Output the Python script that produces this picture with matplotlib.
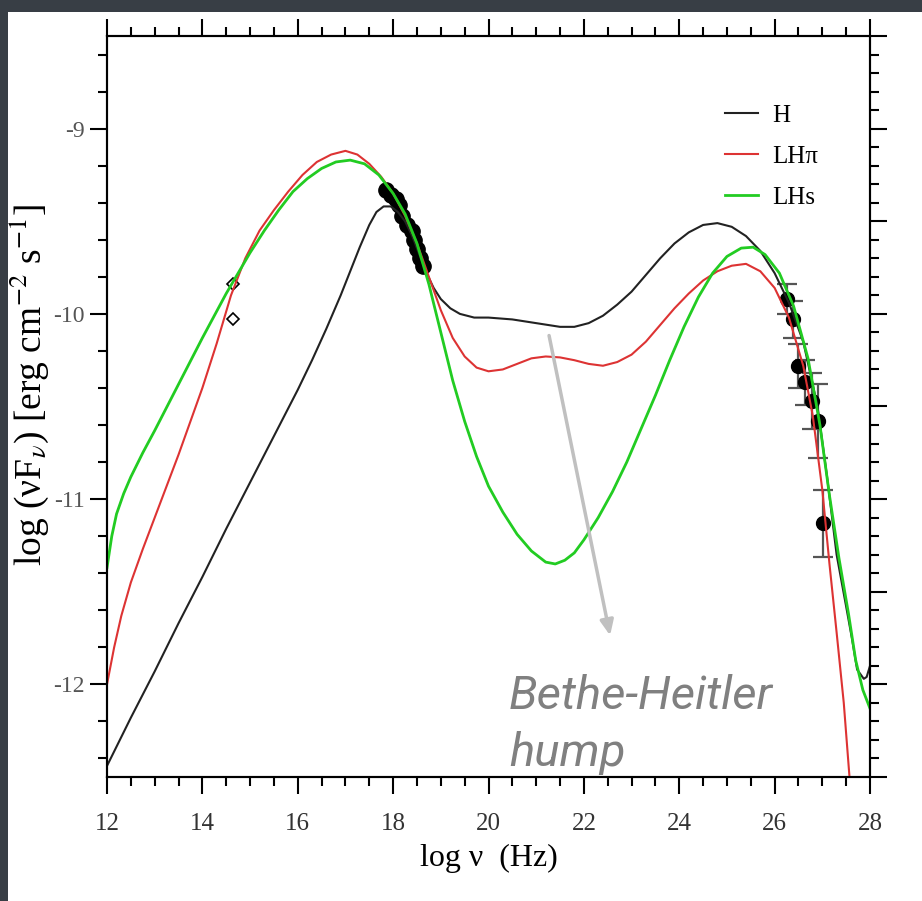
import matplotlib
matplotlib.use("Agg")
import matplotlib.pyplot as plt
from matplotlib.ticker import MultipleLocator
from matplotlib.patches import Rectangle

plt.rcParams['font.family'] = ['Liberation Serif', 'DejaVu Serif']
plt.rcParams['mathtext.fontset'] = 'stix'
plt.rcParams['axes.unicode_minus'] = False

# ---- model curves ----
x_h = [12.0, 12.5, 13.0, 13.5, 14.0, 14.5, 15.0, 15.5, 16.0, 16.3, 16.6, 16.9, 17.1, 17.3, 17.5,
       17.65, 17.8, 17.95, 18.1, 18.25, 18.4, 18.55, 18.7, 18.85, 19.0, 19.2, 19.4, 19.7, 20.0,
       20.5, 21.0, 21.5, 21.8, 22.1, 22.4, 22.7, 23.0, 23.3, 23.6, 23.9, 24.2, 24.5, 24.8, 25.1,
       25.4, 25.7, 26.0, 26.3, 26.6, 26.9, 27.1, 27.3, 27.5, 27.62, 27.73, 27.87, 27.93, 28.0]
y_h = [-12.44, -12.18, -11.93, -11.67, -11.42, -11.16, -10.91, -10.66, -10.41, -10.25, -10.08,
       -9.90, -9.77, -9.64, -9.52, -9.45, -9.42, -9.42, -9.45, -9.50, -9.58, -9.68, -9.78, -9.86,
       -9.92, -9.97, -10.00, -10.02, -10.02, -10.03, -10.05, -10.07, -10.07, -10.05, -10.01,
       -9.95, -9.88, -9.79, -9.70, -9.62, -9.56, -9.52, -9.51, -9.53, -9.58, -9.66, -9.78, -9.94,
       -10.15, -10.50, -10.88, -11.30, -11.58, -11.75, -11.92, -11.97, -11.96, -11.90]

x_lhpi = [12.0, 12.15, 12.3, 12.5, 12.75, 13.0, 13.5, 14.0, 14.3, 14.6, 14.9, 15.2, 15.5, 15.8,
          16.1, 16.4, 16.7, 17.0, 17.25, 17.5, 17.75, 18.0, 18.25, 18.5, 18.75, 19.0, 19.25, 19.5,
          19.75, 20.0, 20.3, 20.6, 20.9, 21.2, 21.5, 21.8, 22.1, 22.4, 22.7, 23.0, 23.3, 23.6,
          23.9, 24.2, 24.5, 24.8, 25.1, 25.4, 25.7, 26.0, 26.3, 26.6, 26.8, 27.0, 27.15, 27.3,
          27.45, 27.6]
y_lhpi = [-12.00, -11.80, -11.63, -11.45, -11.27, -11.10, -10.76, -10.40, -10.16, -9.90, -9.70,
          -9.55, -9.44, -9.34, -9.25, -9.18, -9.14, -9.12, -9.14, -9.19, -9.26, -9.35, -9.47,
          -9.62, -9.80, -9.98, -10.13, -10.23, -10.29, -10.31, -10.30, -10.27, -10.24, -10.23,
          -10.235, -10.25, -10.27, -10.28, -10.26, -10.22, -10.15, -10.06, -9.97, -9.89, -9.82,
          -9.77, -9.74, -9.73, -9.77, -9.86, -10.02, -10.28, -10.55, -10.95, -11.35, -11.72,
          -12.10, -12.60]

x_lhs = [12.0, 12.1, 12.2, 12.35, 12.5, 12.75, 13.0, 13.5, 14.0, 14.5, 15.0, 15.3, 15.6, 15.9,
         16.2, 16.5, 16.8, 17.1, 17.4, 17.7, 18.0, 18.25, 18.5, 18.75, 19.0, 19.25, 19.5, 19.75,
         20.0, 20.3, 20.6, 20.9, 21.2, 21.4, 21.6, 21.8, 22.0, 22.3, 22.6, 22.9, 23.2, 23.5, 23.8,
         24.1, 24.4, 24.7, 25.0, 25.3, 25.55, 25.8, 26.1, 26.4, 26.7, 26.95, 27.15, 27.35, 27.55,
         27.7, 27.85, 28.0]
y_lhs = [-11.37, -11.20, -11.08, -10.97, -10.88, -10.75, -10.63, -10.38, -10.13, -9.89, -9.67,
         -9.55, -9.44, -9.34, -9.27, -9.215, -9.18, -9.17, -9.19, -9.25, -9.35, -9.46, -9.62,
         -9.84, -10.10, -10.36, -10.58, -10.77, -10.93, -11.07, -11.19, -11.28, -11.34, -11.35,
         -11.33, -11.29, -11.22, -11.10, -10.96, -10.80, -10.62, -10.44, -10.25, -10.07, -9.91,
         -9.78, -9.69, -9.645, -9.64, -9.68, -9.78, -9.96, -10.24, -10.60, -10.98, -11.32,
         -11.62, -11.87, -12.03, -12.13]

# ---- observations ----
x_xray = [17.86, 17.95, 18.05, 18.12, 18.19, 18.30, 18.40, 18.44, 18.50, 18.56, 18.62]
y_xray = [-9.33, -9.36, -9.38, -9.41, -9.47, -9.52, -9.55, -9.60, -9.65, -9.70, -9.74]

x_opt = [14.64, 14.64]
y_opt = [-9.84, -10.03]

x_gam = [26.26, 26.38, 26.49, 26.64, 26.78, 26.91, 27.01]
y_gam = [-9.92, -10.03, -10.28, -10.37, -10.47, -10.58, -11.13]
e_gam = [0.08, 0.10, 0.12, 0.12, 0.15, 0.20, 0.18]

W, H = 922, 901
fig = plt.figure(figsize=(W / 100, H / 100), dpi=100)
fig.patch.set_facecolor('#383e45')
bg = Rectangle((8 / W, 0), 1 - 8 / W, 1 - 12 / H, transform=fig.transFigure,
               facecolor='white', edgecolor='none', zorder=-10)
fig.add_artist(bg)

L, R, T, B = 107, 870, 36, 777
ax = fig.add_axes([L / W, 1 - B / H, (R - L) / W, (B - T) / H])
ax.set_facecolor('white')
ax.set_xlim(12, 28)
ax.set_ylim(-12.5, -8.5)

ax.plot(x_xray, y_xray, 'o', color='black', ms=11, zorder=2)
ax.plot(x_opt, y_opt, 'D', mfc='white', mec='black', mew=1.2, ms=6, zorder=2)
ax.errorbar(x_gam, y_gam, yerr=e_gam, fmt='o', color='black', ms=10, ecolor='#555555',
            elinewidth=1.6, capsize=7, capthick=1.6, zorder=2)

ax.plot(x_h, y_h, color='#222222', lw=1.5, label='H', zorder=3)
ax.plot(x_lhpi, y_lhpi, color='#dd3333', lw=1.5, label='LHπ', zorder=3)
ax.plot(x_lhs, y_lhs, color='#22cc22', lw=2.0, label='LHs', zorder=3)

for s in ax.spines.values():
    s.set_linewidth(1.5)
ax.xaxis.set_major_locator(MultipleLocator(2))
ax.xaxis.set_minor_locator(MultipleLocator(0.5))
ax.yaxis.set_major_locator(MultipleLocator(1))
ax.yaxis.set_minor_locator(MultipleLocator(0.2))
ax.tick_params(which='both', direction='out', top=True, right=False, width=1.5)
ax.tick_params(which='major', length=12)
ax.tick_params(which='minor', length=6.5)
ax.tick_params(axis='x', which='major', labelsize=18, pad=14, labelcolor='#333333')
ax.tick_params(axis='y', which='major', labelsize=17, pad=4, labelcolor='#555555')

ax2 = ax.twinx()
ax2.set_ylim(-12.5, -8.5)
ax2.yaxis.set_major_locator(MultipleLocator(0.5))
ax2.yaxis.set_minor_locator(MultipleLocator(0.1))
ax2.tick_params(which='both', direction='out', width=1.5, labelright=False)
ax2.tick_params(which='major', length=12)
ax2.tick_params(which='minor', length=6.5)
for s in ax2.spines.values():
    s.set_linewidth(1.5)

ax.set_xlabel('log ν  (Hz)', fontsize=23)
ax.xaxis.label.set_va('center')
ax.xaxis.set_label_coords(0.5, (B - 858) / (B - T))
ax.set_ylabel(r'log (νF$_{\nu}$) [erg cm$^{-2}$ s$^{-1}$]', fontsize=27)
ax.yaxis.label.set_va('center')
ax.yaxis.set_label_coords((29 - L) / (R - L), (B - 385) / (B - T))

leg = ax.legend(loc='upper left', bbox_to_anchor=((725 - L) / (R - L), (B - 104) / (B - T)),
                frameon=False, fontsize=18, handlelength=1.3, handletextpad=0.6,
                labelspacing=0.75, borderpad=0, borderaxespad=0)

ax.annotate('', xy=(22.55, -11.736), xytext=(21.27, -10.117),
            arrowprops=dict(arrowstyle='-|>,head_width=0.4,head_length=0.9',
                            color='#c0c0c0', lw=2.5, shrinkA=0, shrinkB=0), zorder=4)
ax.text(20.43, -12.216, 'Bethe-Heitler\nhump', fontfamily='Roboto', fontstyle='italic',
        fontsize=34, color='#808080', ha='left', va='center', linespacing=1.35, zorder=4)

fig.savefig('out.png', dpi=100, facecolor=fig.get_facecolor())
